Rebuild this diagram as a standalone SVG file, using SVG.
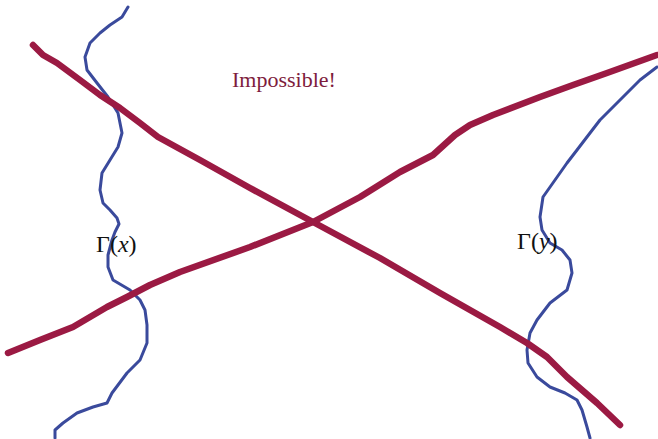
<svg xmlns="http://www.w3.org/2000/svg" width="658" height="439" viewBox="0 0 658 439">
<style>
.blue{fill:none;stroke:#3a4a9c;stroke-width:3;stroke-linecap:round;stroke-linejoin:round}
.red{fill:none;stroke:#9b1a43;stroke-width:6.5;stroke-linecap:round;stroke-linejoin:round}
.lbl{font-family:"Liberation Serif","Times New Roman",serif;fill:#111}
</style>
<rect width="658" height="439" fill="#fff"/>
<g id="connectors">
<polyline id="gamma-x-curve" class="blue" points="128,7 122,17 110,25 100,33 90,43 85,57 87,70 97,83 108,97 118,113 122,133 118,147 110,160 102,173 100,190 103,203 110,210 117,218 119,224 115,232 112,240 108,255 108,267 113,280 130,290 140,300 145,310 147,325 147,343 140,360 127,373 112,393 107,403 93,407 77,413 63,423 55,430 55,438"/>
<polyline id="gamma-y-curve" class="blue" points="657,67 640,80 617,103 600,120 590,133 577,150 567,163 555,180 543,197 540,217 542,230 550,243 562,250 570,260 572,273 567,290 550,303 537,320 530,333 527,350 528,363 537,377 550,387 565,393 577,400 582,410 587,427 590,438"/>
<polyline id="line-1" class="red" points="33,45 43,55 57,63 80,80 100,95 120,108 140,123 158,137 200,160 250,188 313,222 380,258 440,293 500,327 527,343 547,357 567,377 597,403 620,425"/>
<polyline id="line-2" class="red" points="8,353 40,340 73,327 107,307 127,297 150,285 180,272 250,247 313,222 360,197 400,172 433,155 455,135 470,125 493,115 540,97 573,85 607,73 657,55"/>
</g>
<g id="title"><text x="232" y="87" font-family="Liberation Serif, Times New Roman, serif" font-size="22" fill="#7e1c3c">Impossible!</text></g>
<g id="label-gamma-x"><text class="lbl" x="96" y="252" font-size="24">Γ(<tspan font-style="italic">x</tspan>)</text></g>
<g id="label-gamma-y"><text class="lbl" x="517" y="249" font-size="24">Γ(<tspan font-style="italic">y</tspan>)</text></g>
</svg>
